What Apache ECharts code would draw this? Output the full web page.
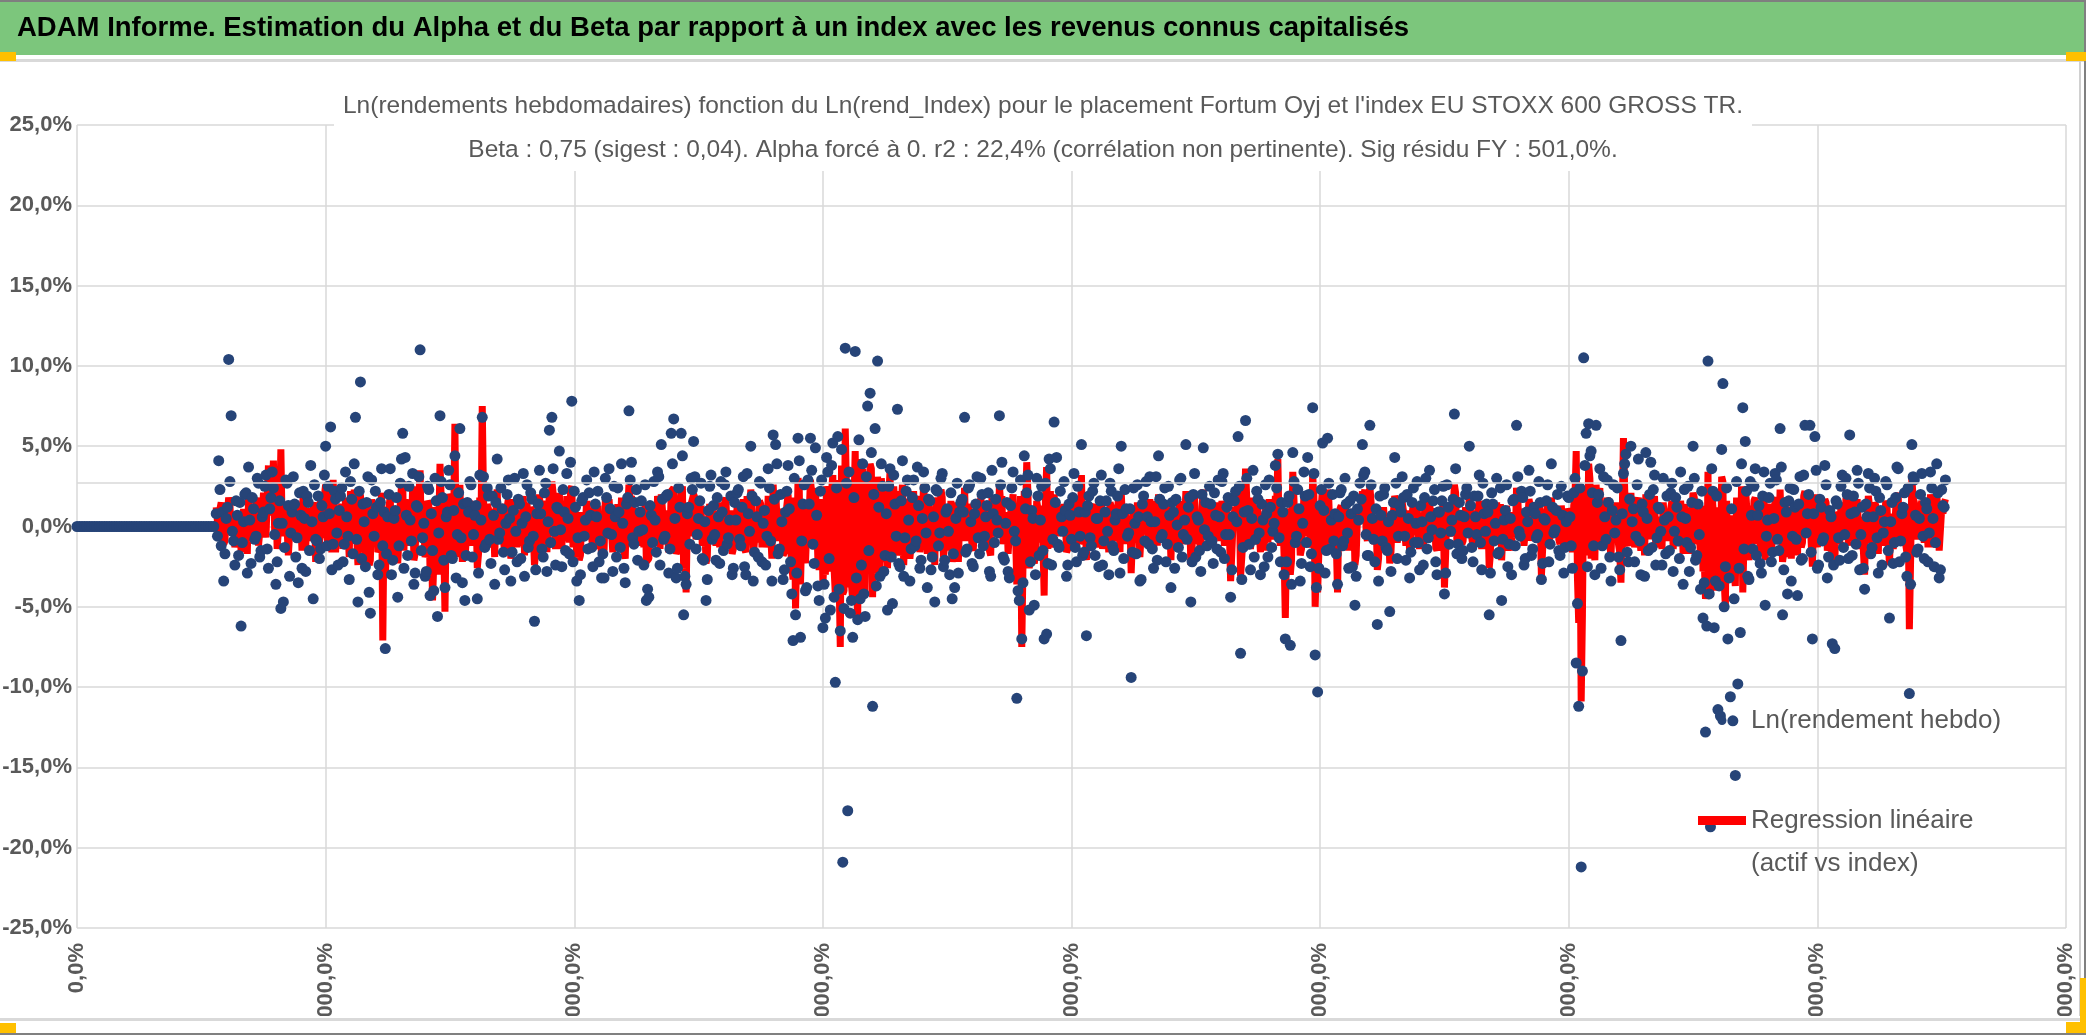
<!DOCTYPE html>
<html lang="fr">
<head>
<meta charset="UTF-8">
<title>ADAM Informe - Fortum Oyj</title>
<script src="https://cdn.jsdelivr.net/npm/echarts@6.0.0/dist/echarts.min.js"></script>
<style>
  html, body { margin: 0; padding: 0; background: #fff; }
  #container { width: 2086px; height: 1035px; }
</style>
</head>
<body>
<div id="container"></div>
<script>
// --- data (percent units) ---
var LEAD_STEP = 2;               // the no-history weeks, one point every 2 weeks
var FIRST_TRADED_WEEK = 112;     // first week with a quotation
var X_MAX = 1600, X_INTERVAL = 200;
var Y_MIN = -25, Y_MAX = 25, Y_INTERVAL = 5;
var GRID_EXTRA_LINE = 2.75;

var ASSET_NAME = 'Ln(rendement hebdo)';
var REG_NAME = 'Regression linéaire (actif vs index)';

// weeks 0..110 : no quotation yet
var assetNoHistory = [
  0, 0, 0, 0, 0, 0, 0, 0, 0, 0, 0, 0, 0, 0, 0, 0, 0, 0, 0, 0,
  0, 0, 0, 0, 0, 0, 0, 0, 0, 0, 0, 0, 0, 0, 0, 0, 0, 0, 0, 0,
  0, 0, 0, 0, 0, 0, 0, 0, 0, 0, 0, 0, 0, 0, 0, 0
];

// Ln(rendement hebdo), even weeks 112, 114 .. 1502
var assetEvenWeeks = [
  0.8, 4.1, -1.2, -3.4, 0.5, 10.4, 6.9, -0.9, 1.6, -1.8,
  -6.2, 0.3, 2.1, 3.7, -2.3, 1.1, -0.6, 2.7, -1.5, 0.9,
  3.2, -2.6, 1.8, 2.4, -3.6, 0.2, -5.1, -4.7, 2.9, 1.3,
  -0.4, 3.1, -1.9, -3.5, 0.7, 2.2, -2.8, 1.5, 3.8, -4.5,
  -0.8, 1.9, -1.4, 0.6, 5.0, 2.5, 6.2, -1.1, 1.7, -2.4,

  1.9, -2.2, 3.4, -0.6, 2.8, -1.7, 6.8, -4.7, 9.0, 1.4,
  -2.5, 3.1, -5.4, 0.8, 2.2, -3.0, 1.5, -1.2, -7.6, 0.6,
  3.6, -2.1, 1.0, -4.4, 2.7, 5.8, 4.3, -1.8, 0.4, 3.3,
  -2.9, 1.2, 11.0, -0.7, -3.1, 2.5, -4.3, -1.5, 3.0, -5.6,
  6.9, 1.8, -3.8, 0.9, 2.6, -2.0, 4.4, -0.5, 6.1, -3.5,

  -4.6, 1.5, 2.8, -1.9, 0.7, -4.5, 3.2, 6.8, -1.3, 2.4,
  -0.8, 1.9, -3.6, 4.2, -0.4, 1.1, -2.7, 2.0, 0.5, -1.6,
  3.0, -2.2, 1.4, 0.2, -3.1, 2.6, -0.9, 1.7, -5.9, 0.8,
  3.5, -1.4, 2.1, -2.8, 6.0, 6.8, -0.3, 1.2, 4.7, -2.5,
  0.9, 3.3, -1.7, 7.8, 2.2, -3.4, -4.6, 1.6, -0.6, 2.9,

  2.1, -1.3, 3.4, 0.6, -2.2, -3.2, -3.2, 1.8, 3.6, -0.5,
  2.5, -1.9, 0.9, 3.9, -2.6, 1.4, 7.2, 4.0, -1.1, 2.3,
  -0.3, 1.6, -2.4, -4.6, -4.4, 0.7, 2.8, -1.6, 3.1, 5.1,
  -0.8, 1.9, -2.9, 5.8, 6.7, -3.2, 2.4, 5.8, -5.5, -3.6,
  1.2, 3.0, 5.3, -1.4, 0.5, 2.7, -2.1, -4.6, 1.0, 3.2,

  1.3, -2.1, 0.6, 2.8, -1.5, 3.4, -0.7, 1.9, -2.6, 0.4,
  2.3, -1.2, 3.1, -3.0, 0.8, 5.0, -3.4, 1.6, -1.9, 2.7,
  0.2, -2.4, 3.6, -0.9, 5.7, 5.1, -1.7, 2.0, -3.3, 0.9,
  3.8, -2.2, -7.1, -5.5, 5.5, -6.9, 1.4, -4.0, 2.9, 5.5,
  -1.1, 4.9, -3.7, 2.2, -6.3, -5.7, 3.4, -5.2, 5.2, -9.7,

  5.6, -6.5, -20.9, 11.1, -17.7, -5.4, -6.9, 10.9, -5.8, -4.5,
  3.9, -5.6, 7.5, 8.3, -11.2, 6.1, 10.3, -3.1, 2.5, -1.8,
  -5.2, 3.6, -4.8, 1.4, 7.3, -2.5, 4.1, -0.7, 2.9, -3.4,
  1.8, -1.2, 3.7, -2.6, 0.5, 2.4, -3.8, 1.6, -1.9, -4.7,
  2.2, -0.4, 3.3, -2.1, 1.1, -3.0, -4.5, -3.8, 2.7, 0.9,

  1.7, 6.8, -1.4, 2.6, -2.3, 0.8, 3.1, -1.7, 2.0, -0.6,
  1.3, -2.8, 3.5, -1.0, 0.4, 6.9, 4.0, -2.1, 1.5, -3.2,
  2.4, -0.3, -10.7, -4.6, -7.0, 4.4, 2.1, -5.2, 1.0, -4.9,
  3.0, -1.8, 2.5, -7.0, -6.7, 4.2, -2.4, 6.5, 4.3, -1.3,
  0.6, 2.8, -3.1, 1.4, -0.8, 3.3, -2.2, 0.9, 5.1, -1.6,

  -6.8, 1.9, -1.2, 2.7, 0.5, -2.5, 3.2, -0.9, 1.6, -3.0,
  2.2, -1.5, 0.8, 3.6, 5.0, -2.0, 1.1, -0.4, -9.4, 2.4,
  -1.7, 0.6, -3.3, 1.9, 2.8, -1.1, 0.3, -2.6, 3.1, 4.4,
  -0.7, 1.4, -2.2, 2.5, -3.8, 0.9, 1.7, -1.3, 3.0, -0.5,
  5.1, 1.2, -4.7, 2.0, -1.9, 0.4, -2.8, 4.9, 1.5, -0.6,

  1.4, -2.3, 0.7, 2.9, -1.6, 3.3, -0.5, 1.8, -4.4, 0.6,
  2.2, 5.6, -7.9, -1.3, 6.6, 1.0, -2.7, 3.5, -0.8, 1.7,
  -3.0, 0.4, 2.6, -1.9, 1.2, -0.3, 3.8, 4.5, -2.2, 0.9,
  -7.0, 1.5, -7.4, 4.6, -1.0, 2.3, -3.4, 0.2, 1.9, 4.3,
  -2.5, 7.4, -8.0, -10.3, 1.3, 5.2, -2.9, 5.5, -1.4, 2.0,

  0.8, -3.6, 2.1, -1.2, 3.0, -0.4, 1.6, -2.5, -4.9, 1.1,
  2.7, 5.1, 3.4, -1.8, 6.3, 0.5, -2.2, -6.1, 1.9, -0.9,
  2.4, -1.5, -5.3, 0.7, 4.3, -2.0, 1.3, 3.1, -0.6, 2.0,
  -3.2, 1.5, -1.0, 2.8, -2.7, 0.3, 1.8, -1.4, 3.5, -0.2,
  2.3, -3.0, 0.9, 1.6, -4.2, 2.6, -1.1, 0.4, 7.0, -1.7,

  1.5, -2.0, 0.6, 2.4, 5.0, -1.3, 1.9, -0.5, 3.2, -2.7,
  0.8, 1.4, -5.5, 2.1, -0.9, 3.0, -1.6, -4.6, 0.4, 2.6,
  -1.1, -3.0, 1.7, 6.3, -0.3, 2.2, -2.4, 0.9, 3.5, -1.8,
  1.2, -0.7, 2.8, -3.3, 0.5, 1.6, -2.2, 3.9, -0.4, 1.0,
  -1.5, 2.5, -2.9, 0.3, 1.8, -1.2, 2.1, -8.5, -11.2, -21.2,

  10.5, 5.8, 6.4, 4.7, -1.2, 6.3, 2.0, -2.6, 3.1, -0.8,
  1.5, -3.4, 2.6, 0.4, -1.9, -7.1, 3.3, 4.5, -2.2, 5.0,
  1.1, -0.6, 4.2, -3.0, 0.9, 4.6, -1.5, 4.0, 2.3, -2.4,
  1.2, -0.3, 3.0, -1.7, 0.6, 2.1, -2.8, 1.8, -0.9, 3.4,
  -3.6, 0.5, 2.5, -1.3, 5.0, -2.1, 1.4, -3.9, -5.7, -12.8,

  10.3, -18.7, 2.2, -3.4, -11.4, -11.8, 8.9, -2.5, -7.0, -10.6,
  -12.1, -15.5, -9.8, -6.6, 7.4, 5.3, -3.1, 2.8, -1.4, 3.6,
  0.7, -2.3, 1.9, -4.9, 0.4, 2.7, -1.6, 3.3, -0.8, 6.1,
  -5.5, 1.5, -4.2, 2.4, -0.6, 1.2, -4.3, 3.1, -2.0, 6.3,
  0.8, 6.3, -7.0, 5.6, -2.6, 1.7, -0.9, 3.8, -3.2, 1.0,

  -7.3, -7.6, 1.4, -2.1, 3.2, -0.5, 2.0, 5.7, -1.8, 0.9,
  3.5, -2.7, 1.2, -3.9, 0.6, 2.4, -1.3, 3.0, -0.7, 1.8,
  -2.4, 0.3, 2.6, -5.7, 1.5, -1.0, 3.7, -2.2, 0.8, 2.1,
  -3.1, -10.4, 5.1, 2.9, -1.6, 0.5, 3.3, -2.0, 1.1, -0.4,
  2.4, -2.5, 3.9, -3.2, 2.3, 1.2
];

// Ln(rendement hebdo), odd weeks 113, 115 .. 1503
var assetOddWeeks = [
  -0.6, 2.3, 0.9, -1.7, 1.2, 2.8, -0.3, -2.4, 0.7, 1.5,
  -1.0, 2.0, -2.9, 0.4, 1.8, -0.8, 3.0, -1.9, 0.6, 2.5,
  -1.4, 1.1, 3.4, -0.5, -2.2, 1.6, 0.2, -1.3, 2.7, -3.1,
  0.9, 1.4, -0.7, 2.1, -2.6, 0.5, 1.9, -1.5, 0.3, 2.6,
  -0.9, -2.0, 1.3, 3.2, -1.2, 0.8, -2.7, 2.2, -0.4, 1.0,

  2.4, -1.1, 0.6, -3.3, 1.7, 3.9, -0.8, 2.2, -2.0, 0.3,
  1.5, -4.1, 2.9, -0.6, 1.2, -2.4, 3.6, 0.9, -1.7, 2.0,
  -3.0, 0.5, 1.8, -1.2, 4.2, -2.6, 0.7, 2.5, -0.9, -3.6,
  1.3, 3.1, -1.5, 0.2, -2.8, 2.3, 0.8, -4.0, 1.6, -0.4,
  2.8, -2.1, 0.6, 3.5, -1.8, 1.0, -3.2, 2.1, -0.7, 1.4,

  -1.8, 0.9, 2.6, -0.5, 1.3, -2.9, 0.4, 3.1, -1.1, 1.9,
  -2.3, 0.7, 1.5, -0.8, 2.4, -1.6, 0.2, 2.9, -3.4, 1.0,
  -0.3, 1.7, -2.0, 3.3, 0.6, -1.3, 2.1, -0.6, -2.7, 1.4,
  0.8, -1.9, 2.7, 0.3, -1.0, 3.6, -2.4, 1.1, -0.2, 2.3,
  -1.5, 0.5, 4.0, -2.2, 1.2, -0.7, -3.0, 1.8, 0.4, -1.4,

  0.7, -2.5, 1.4, 2.2, -0.9, -1.7, 3.0, -0.4, 1.1, -2.8,
  0.6, 2.4, -1.3, 0.2, -3.5, 1.8, 2.9, -0.7, 1.5, -2.1,
  0.9, -0.2, 2.6, -3.9, 1.3, -1.0, 0.4, 3.4, -2.4, 1.7,
  -0.6, 2.0, -1.4, 3.9, 0.5, -2.6, 1.2, 4.4, -3.1, 0.8,
  -1.1, 2.3, 3.1, -0.5, 1.6, -2.0, 0.3, -3.3, 2.5, -0.8,

  -0.5, 1.8, -2.3, 0.9, 2.6, -1.1, 0.4, -3.0, 1.5, 2.1,
  -0.8, 1.2, -2.5, 3.3, -0.3, 1.9, -1.6, 0.6, 2.8, -2.2,
  1.0, -0.6, 2.4, -3.4, 1.7, 3.9, -1.4, 0.3, -2.7, 2.2,
  1.1, -4.2, 3.0, -2.9, 4.1, -0.9, 2.6, -3.8, 1.4, 3.5,
  -2.3, 0.7, -4.6, 2.9, -3.6, 4.3, -2.0, 3.8, -4.4, 2.4,

  -3.9, 4.8, -5.1, 2.7, 3.4, -4.6, 1.8, -3.2, 5.4, -2.4,
  -4.2, 3.1, -1.5, 4.6, 2.0, -3.7, 1.2, 3.9, -2.8, 0.8,
  2.5, -1.9, 3.2, -0.6, -2.3, 1.6, -3.1, 2.2, 0.4, -1.4,
  2.9, -0.9, 1.3, -2.1, 3.4, -0.4, 1.7, -2.7, 0.6, 2.3,
  -1.2, 3.0, -2.5, 0.9, -0.3, 2.1, -1.7, 0.5, -2.9, 1.5,

  0.9, -1.6, 2.4, 0.3, -2.5, 1.4, -0.7, 3.0, -1.2, 0.6,
  2.1, -3.1, 0.8, 1.7, -0.4, 2.6, -1.9, 0.2, -2.8, 1.3,
  3.4, -0.9, -4.0, 2.9, -3.5, 1.1, 3.2, -2.2, 0.5, -3.0,
  1.9, 0.4, -1.5, 2.7, -2.3, 3.6, -0.8, 1.5, -1.1, 2.2,
  -0.3, 1.0, -2.4, 0.7, 1.8, -1.3, 2.5, -0.6, -1.8, 0.9,

  1.3, -0.7, 2.2, -1.8, 0.5, 1.6, -2.4, 0.9, -0.3, 2.7,
  -1.2, 0.4, 1.9, -2.9, 0.8, 2.3, -0.6, 1.1, -1.6, 0.2,
  2.6, -3.4, 1.4, -0.9, 0.6, 3.1, -1.4, 0.3, -2.1, 1.7,
  -0.5, 2.4, -1.1, 0.7, 1.5, -2.6, 0.1, 2.9, -1.9, 0.4,
  -0.8, 1.8, -2.2, 3.3, 0.6, -1.5, 2.0, -0.2, -1.2, 2.5,

  -0.9, 2.1, -1.4, 0.6, 2.8, -2.0, 1.2, -0.5, -2.7, 1.6,
  0.3, 2.5, -3.3, 0.9, 3.0, -1.1, 0.5, -1.9, 2.2, -0.4,
  1.4, -2.5, 0.8, 2.9, -1.3, 0.2, 2.4, -0.7, 1.5, -3.0,
  -2.2, 1.9, -3.6, 2.8, -0.6, 1.1, -2.3, 3.4, -1.0, 2.0,
  -1.7, 3.3, -3.8, -2.6, 2.3, 1.0, -1.5, 2.7, 0.4, -0.9,

  -1.7, 0.6, 2.3, -0.9, 1.4, -2.6, 0.8, 1.9, -3.1, 0.4,
  1.7, 3.2, -0.5, -1.8, 2.6, -0.8, 1.1, -3.4, 0.7, 2.0,
  -1.3, 0.3, -2.8, 1.5, 2.7, -0.6, 0.9, 1.8, -2.1, 0.5,
  -1.6, 2.4, 0.2, -1.0, 1.3, -2.4, 3.0, -0.7, 0.6, 1.6,
  -2.2, 0.9, -0.4, 2.5, -2.9, 1.2, -0.3, 1.7, 3.6, -1.1,

  0.7, -1.5, 2.0, -0.4, 1.3, -2.2, 0.6, 1.9, -1.0, 2.7,
  -0.3, 0.9, -2.9, 1.4, 0.2, -1.7, 2.4, -0.8, 1.0, -2.5,
  0.5, 1.6, -1.2, 3.1, -0.6, 1.8, -2.0, 0.3, 2.2, -1.4,
  0.8, -0.5, 1.5, -2.3, 0.4, 2.6, -1.1, 1.2, -0.2, 2.0,
  -1.8, 0.7, -1.3, 1.9, 0.6, -2.6, 3.0, -4.8, 2.4, -9.0,

  3.8, -2.5, 4.4, 2.1, -3.0, 1.5, 3.6, -1.2, 0.6, 2.9,
  -1.9, 1.0, -0.4, 2.4, -2.7, 0.8, 3.9, -1.6, 1.7, 0.3,
  -2.2, 2.6, -0.9, 1.4, -3.1, 0.5, 2.0, -1.3, 3.2, -0.7,
  1.1, -2.4, 0.4, 1.9, -1.5, 2.7, -0.3, 1.2, -2.0, 0.6,
  2.3, -1.0, -2.8, 1.5, 3.0, -1.8, -0.5, 2.2, -3.5, -6.2,

  -4.2, 3.6, -6.3, 1.9, -3.7, 4.8, -5.0, 2.4, -3.2, 1.1,
  -4.5, 2.8, -2.6, 3.9, -1.4, 2.2, -3.3, 0.7, 2.5, -1.8,
  1.3, -2.9, 3.4, -0.6, 1.8, -2.2, 0.5, 2.9, -1.5, 3.7,
  -2.7, 0.9, 1.6, -3.4, 2.3, -0.8, 1.4, -2.1, 3.2, -0.4,
  2.0, -1.6, 0.8, 3.5, -2.4, 1.2, -0.7, 2.6, -1.9, 0.6,

  -2.4, 1.6, -0.7, 2.5, -1.3, 3.0, -2.0, 0.8, 1.9, -1.1,
  2.7, -0.5, -2.6, 1.4, 3.3, -1.7, 0.6, 2.2, -2.9, 1.0,
  -0.4, 2.8, -1.5, 0.3, -2.3, 1.8, 3.6, -0.9, 1.2, -1.9,
  2.4, -3.6, 3.1, 0.7, -1.4, 2.0, -0.6, 1.5, -2.2, 3.4,
  0.5, -1.0, 2.1, -2.7, 1.3, 2.9
];

// beta x Ln(rend_Index), even weeks 112 .. 1502
var regressionEvenWeeks = [
  1.2, -0.8, 1.5, -1.1, 0.6, 1.8, -0.5, 0.9, -1.4, 0.4,
  -1.6, 1.1, -0.3, 1.9, -0.9, 0.7, 1.4, -1.2, 0.5, 2.1,
  -0.7, 3.8, 1.2, 4.1, 2.3, -1.5, 4.8, -0.6, 1.5, -1.8,
  0.8, -0.4, 1.6, -1.0, 0.3, 2.4, -1.3, 0.9, -0.5, 1.2,
  -2.2, 0.6, 1.8, -0.7, 2.6, -1.1, 0.4, 2.9, -1.6, 0.8,

  0.6, -1.4, 1.8, -0.3, 2.2, -0.9, 1.5, -2.4, 2.0, 0.7,
  -1.8, 1.3, -2.1, 0.4, 1.1, -1.6, 0.8, -7.1, -3.2, 0.5,
  1.9, -1.0, 0.6, -2.3, 1.4, 2.8, 1.7, -1.2, 0.3, 2.5,
  -1.7, 0.9, 3.5, -0.6, -1.9, 1.6, -2.8, -4.6, 1.2, -3.0,
  3.9, 0.8, -5.3, 0.4, 1.8, -1.5, 6.4, -0.8, 2.6, -2.2,

  -2.0, 0.8, 1.6, -1.2, 0.5, -2.6, 1.8, 7.5, -0.9, 1.4,
  -0.5, 1.1, -1.9, 2.3, -0.2, 0.7, -1.5, 1.2, 0.3, -1.0,
  1.7, -1.3, 0.9, 0.1, -1.8, 1.5, -0.6, 1.0, -2.4, 0.5,
  2.0, -0.8, 1.2, -1.6, 2.2, 2.8, -0.2, 0.7, 2.1, -1.4,
  0.6, 1.9, -1.0, 2.5, 1.3, -1.9, -2.1, 0.9, -0.4, 1.6,

  1.0, -0.7, 1.6, 0.3, -1.4, -1.8, -1.5, 0.9, 1.7, -0.3,
  1.2, -1.1, 0.4, 1.8, -1.5, 0.8, 2.6, 1.9, -0.6, 1.1,
  -0.2, 0.9, -1.3, -2.2, -2.0, 0.4, 1.3, -0.9, 1.5, 2.0,
  -0.5, 1.0, -1.6, 2.2, 2.4, -1.7, 1.2, 2.1, -2.6, -4.1,
  0.6, 1.4, 2.0, -0.8, 0.3, 1.3, -1.2, -2.3, 0.5, 1.5,

  0.7, -1.2, 0.3, 1.5, -0.8, 1.8, -0.4, 1.0, -1.4, 0.2,
  1.2, -0.7, 1.7, -1.6, 0.4, 2.3, -1.8, 0.9, -1.0, 1.4,
  0.1, -1.3, 1.9, -0.5, 2.6, 2.2, -0.9, 1.1, -1.8, 0.5,
  2.0, -1.2, -3.3, -5.1, 3.0, -3.6, 0.8, -2.3, 1.6, 2.9,
  -0.6, 2.4, -2.1, 1.2, -3.5, -3.0, 2.0, -2.8, 3.2, -4.2,

  2.9, -7.5, -4.2, 6.1, -3.8, -2.5, -4.6, 4.7, -5.9, -3.4,
  3.6, -4.1, 2.8, 3.9, -4.4, 2.4, 3.1, -2.7, 2.0, -1.4,
  -2.6, 3.4, -1.9, 1.1, 2.2, -1.3, 2.6, -0.5, 1.5, -2.0,
  1.2, -0.8, 1.9, -1.6, 0.4, 1.3, -1.7, 0.9, -1.1, -2.4,
  1.4, -0.3, 1.8, -1.2, 0.6, -1.5, -2.2, -1.4, 1.5, 0.5,

  0.9, 2.4, -0.8, 1.4, -1.3, 0.5, 1.6, -1.0, 1.1, -0.4,
  0.8, -1.5, 1.8, -0.6, 0.3, 2.5, 1.9, -1.2, 0.9, -1.8,
  1.3, -0.2, -3.6, -2.1, -7.5, 2.2, 4.0, -2.6, 0.6, -2.3,
  1.6, -1.0, 1.3, -4.3, 3.7, 1.8, -1.3, 2.0, 1.6, -0.7,
  0.4, 1.4, -1.6, 0.8, -0.5, 1.7, -1.2, 0.5, 3.2, -0.9,

  -2.1, 1.0, -0.7, 1.4, 0.3, -1.3, 1.7, -0.5, 0.9, -1.6,
  1.2, -0.9, 0.5, 1.9, 2.1, -1.1, 0.7, -0.3, -2.9, 1.3,
  -1.0, 0.4, -2.0, 1.1, 1.5, -0.7, 0.2, -1.5, 1.6, 2.0,
  -0.4, 0.8, -1.2, 1.3, -2.1, 0.5, 0.9, -0.8, 1.6, -0.3,
  2.2, 0.7, -2.4, 1.1, -1.1, 0.3, -1.6, 2.3, 0.9, -0.4,

  0.7, -1.3, 0.4, 1.5, -0.9, 1.7, -0.3, 0.9, -3.4, 0.3,
  1.2, 2.4, -3.1, -0.7, 3.6, 0.5, -1.4, 1.8, -0.4, 0.9,
  -1.6, 0.2, 1.4, -1.0, 0.6, -0.2, 1.9, 4.2, -1.2, 0.5,
  -5.7, 0.8, -3.0, 3.4, -0.5, 1.2, -1.8, 0.1, 1.0, 2.1,
  -1.3, 3.2, -5.0, -4.1, 0.7, 2.5, -1.5, 2.3, -0.7, 1.0,

  0.4, -4.1, 1.1, -0.6, 1.5, -0.2, 0.9, -1.3, -2.4, 0.6,
  1.3, 2.2, 2.3, -0.9, 2.5, 0.3, -1.1, -2.7, 1.0, -0.5,
  1.2, -0.8, -2.3, 0.4, 1.9, -1.0, 0.7, 1.5, -0.3, 1.0,
  -1.6, 0.8, -0.5, 1.4, -1.4, 0.2, 0.9, -0.7, 1.7, -0.1,
  1.1, -1.5, 0.5, 0.8, -3.8, 1.3, -0.6, 0.2, 2.6, -0.9,

  0.8, -1.1, 0.3, 1.3, 2.0, -0.7, 1.0, -0.3, 1.6, -1.4,
  0.4, 0.7, -2.6, 1.1, -0.5, 1.5, -0.8, -2.1, 0.2, 1.3,
  -0.6, -1.5, 0.9, 2.4, -0.2, 1.1, -1.2, 0.5, 1.7, -0.9,
  0.6, -0.4, 1.4, -3.1, 0.3, 0.8, -1.1, 1.8, -0.2, 0.5,
  -0.8, 1.3, -1.5, 0.2, 0.9, -0.6, 1.3, 4.7, -6.0, -10.9,

  2.5, 1.8, 3.9, -2.0, -0.7, 2.6, 1.1, -1.4, 1.6, -0.5,
  0.8, -1.8, 1.4, 0.2, -1.1, -3.5, 5.5, 2.3, -1.2, 2.1,
  0.6, -0.3, 1.8, -1.5, 0.5, 2.0, -0.8, 1.7, 1.2, -1.3,
  0.6, -0.2, 1.5, -0.9, 0.3, 1.1, -1.4, 0.9, -0.5, 1.6,
  -1.7, 0.3, 1.2, -0.7, 2.1, -1.1, 0.7, -1.9, -2.8, -4.5,

  3.4, -4.4, 1.2, -1.9, -3.6, -3.0, 2.8, -5.0, -2.4, -3.3,
  -1.8, -3.7, -2.6, -1.5, -4.1, 2.5, -1.4, 1.3, -0.7, 1.8,
  0.4, -1.2, 1.0, -2.1, 0.2, 1.4, -0.8, 1.6, -0.4, 2.3,
  -2.2, 0.8, -1.9, 1.2, -0.3, 0.6, -1.8, 1.5, -1.0, 2.2,
  0.4, 1.9, -2.5, 2.0, -1.3, 0.9, -0.5, 1.7, -1.5, 0.5,

  -2.3, -2.5, 0.7, -1.1, 1.6, -0.3, 1.0, 2.2, -0.9, 0.5,
  1.7, -1.4, 0.6, -3.0, 0.3, 1.2, -0.7, 1.5, -0.4, 0.9,
  -1.2, 0.2, 1.3, -2.4, 0.8, -0.5, 1.8, -1.1, 0.4, 1.0,
  -1.6, -6.4, 3.0, 1.5, -0.8, 0.3, 1.6, -1.0, 0.6, -0.2,
  1.2, -1.3, 1.9, -1.5, 1.1, 1.4
];

// beta x Ln(rend_Index), odd weeks 113 .. 1503
var regressionOddWeeks = [
  0.3, 1.1, -0.4, -0.9, 0.8, 1.4, -0.2, -1.3, 0.5, 0.9,
  -0.6, 1.2, -1.7, 0.2, 1.0, -0.5, 1.8, -1.1, 0.3, 1.5,
  -0.8, 0.7, 2.0, -0.3, -1.4, 0.9, 0.1, -0.7, 1.6, -1.9,
  0.5, 0.8, -0.4, 1.2, -1.5, 0.3, 1.1, -0.9, 0.2, 1.5,
  -0.5, -1.2, 0.8, 1.9, -0.7, 0.5, -1.6, 1.3, -0.2, 0.6,

  1.4, -0.6, 0.3, -1.9, 1.0, 2.3, -0.5, 1.3, -1.2, 0.2,
  0.9, -2.4, 1.7, -0.4, 0.7, -1.4, 2.1, 0.5, -1.0, 1.2,
  -1.8, 0.3, 1.1, -0.7, 2.5, -1.5, 0.4, 1.5, -0.5, -2.1,
  0.8, 1.8, -0.9, 0.1, -1.6, 1.4, 0.5, -2.3, 0.9, -0.2,
  1.7, -1.2, 0.4, 2.0, -1.1, 0.6, -1.9, 1.2, -0.4, 0.8,

  -1.0, 0.5, 1.5, -0.3, 0.8, -1.7, 0.2, 1.8, -0.6, 1.1,
  -1.3, 0.4, 0.9, -0.5, 1.4, -0.9, 0.1, 1.7, -2.0, 0.6,
  -0.2, 1.0, -1.2, 1.9, 0.3, -0.8, 1.2, -0.3, -1.6, 0.8,
  0.5, -1.1, 1.6, 0.2, -0.6, 2.1, -1.4, 0.6, -0.1, 1.3,
  -0.9, 0.3, 2.3, -1.3, 0.7, -0.4, -1.8, 1.0, 0.2, -0.8,

  0.4, -1.4, 0.8, 1.3, -0.5, -1.0, 1.7, -0.2, 0.6, -1.6,
  0.3, 1.4, -0.7, 0.1, -2.0, 1.0, 1.7, -0.4, 0.9, -1.2,
  0.5, -0.1, 1.5, -2.2, 0.7, -0.6, 0.2, 1.9, -1.4, 1.0,
  -0.3, 1.1, -0.8, 2.3, 0.3, -1.5, 0.7, 2.5, -1.8, 0.5,
  -0.6, 1.3, 1.8, -0.3, 0.9, -1.2, 0.2, -1.9, 1.4, -0.5,

  -0.3, 1.0, -1.3, 0.5, 1.5, -0.6, 0.2, -1.7, 0.9, 1.2,
  -0.5, 0.7, -1.4, 1.9, -0.2, 1.1, -0.9, 0.4, 1.6, -1.3,
  0.6, -0.4, 1.4, -2.0, 1.0, 2.3, -0.8, 0.2, -1.6, 1.3,
  0.7, -2.5, 1.8, -1.7, 2.4, -0.5, 1.5, -2.2, 0.8, 2.1,
  -1.4, 0.4, -2.7, 1.7, -2.1, 2.5, -1.2, 2.2, -2.6, 1.4,

  -3.0, 3.8, -4.0, 2.1, 2.7, -3.6, 1.4, -2.5, 4.2, -1.9,
  -3.3, 2.4, -1.2, 3.6, 1.6, -2.9, 0.9, 3.0, -2.2, 0.6,
  1.9, -1.5, 2.5, -0.5, -1.8, 1.2, -2.4, 1.7, 0.3, -1.1,
  2.2, -0.7, 1.0, -1.6, 2.6, -0.3, 1.3, -2.1, 0.5, 1.8,
  -0.9, 2.3, -1.9, 0.7, -0.2, 1.6, -1.3, 0.4, -2.2, 1.2,

  0.5, -0.9, 1.4, 0.2, -1.5, 0.8, -0.4, 1.8, -0.7, 0.3,
  1.2, -1.8, 0.5, 1.0, -0.2, 1.5, -1.1, 0.1, -1.7, 0.8,
  2.0, -0.5, -2.6, 1.9, -2.2, 0.7, 2.0, -1.4, 0.3, -1.8,
  1.1, 0.2, -0.9, 1.6, -1.4, 2.2, -0.5, 0.9, -0.6, 1.3,
  -0.2, 0.6, -1.4, 0.4, 1.1, -0.8, 1.5, -0.4, -1.1, 0.5,

  0.7, -0.4, 1.2, -1.0, 0.3, 0.9, -1.4, 0.5, -0.2, 1.5,
  -0.7, 0.2, 1.1, -1.6, 0.5, 1.3, -0.3, 0.6, -0.9, 0.1,
  1.5, -1.9, 0.8, -0.5, 0.3, 1.7, -0.8, 0.2, -1.2, 1.0,
  -0.3, 1.4, -0.6, 0.4, 0.9, -1.5, 0.1, 1.6, -1.1, 0.2,
  -0.5, 1.0, -1.3, 1.9, 0.3, -0.9, 1.2, -0.1, -0.7, 1.4,

  -0.5, 1.2, -0.8, 0.3, 1.6, -1.2, 0.7, -0.3, -1.6, 0.9,
  0.2, 1.4, -1.9, 0.5, 1.7, -0.6, 0.3, -1.1, 1.3, -0.2,
  0.8, -1.5, 0.5, 1.7, -0.8, 0.1, 1.4, -0.4, 0.9, -1.8,
  -1.3, 1.1, -2.1, 1.6, -0.3, 0.6, -1.4, 2.0, -0.6, 1.2,
  -1.0, 1.9, -2.3, -1.5, 1.3, 0.6, -0.9, 1.6, 0.2, -0.5,

  -1.0, 0.3, 1.3, -0.5, 0.8, -1.5, 0.5, 1.1, -1.8, 0.2,
  1.0, 1.9, -0.3, -1.0, 1.5, -0.5, 0.6, -2.0, 0.4, 1.2,
  -0.8, 0.2, -1.6, 0.9, 1.6, -0.4, 0.5, 1.0, -1.2, 0.3,
  -0.9, 1.4, 0.1, -0.6, 0.8, -1.4, 1.8, -0.4, 0.3, 0.9,
  -1.3, 0.5, -0.2, 1.5, -1.7, 0.7, -0.2, 1.0, 2.1, -0.6,

  0.4, -0.9, 1.2, -0.2, 0.8, -1.3, 0.3, 1.1, -0.6, 1.6,
  -0.2, 0.5, -1.7, 0.8, 0.1, -1.0, 1.4, -0.5, 0.6, -1.5,
  0.3, 0.9, -0.7, 1.8, -0.3, 1.0, -1.2, 0.2, 1.3, -0.8,
  0.5, -0.3, 0.9, -1.4, 0.2, 1.5, -0.6, 0.7, -0.1, 1.2,
  -1.1, 0.4, -0.8, 1.1, 0.3, -1.6, 1.8, -3.2, 2.0, -5.5,

  2.6, -1.8, 3.0, 1.4, -2.1, 1.0, 2.4, -0.8, 0.4, 1.8,
  -1.2, 0.6, -0.3, 1.5, -1.6, 0.5, 2.3, -1.0, 1.0, 0.2,
  -1.3, 1.5, -0.6, 0.8, -1.8, 0.3, 1.2, -0.8, 1.9, -0.4,
  0.7, -1.4, 0.3, 1.1, -0.9, 1.6, -0.2, 0.7, -1.2, 0.4,
  1.4, -0.6, -1.7, 0.9, 1.8, -1.1, -0.3, 1.3, -2.1, -3.8,

  -2.8, 2.4, -4.0, 1.2, -2.5, 3.1, -3.3, 1.6, -2.1, 0.7,
  -2.9, 1.8, -1.7, 2.5, -0.9, 1.4, -2.1, 0.4, 1.6, -1.1,
  0.8, -1.8, 2.1, -0.4, 1.1, -1.4, 0.3, 1.8, -0.9, 2.2,
  -1.6, 0.5, 1.0, -2.0, 1.4, -0.5, 0.9, -1.3, 1.9, -0.2,
  1.2, -1.0, 0.5, 2.0, -1.4, 0.7, -0.4, 1.5, -1.1, 0.4,

  -1.4, 0.9, -0.4, 1.5, -0.8, 1.8, -1.2, 0.5, 1.1, -0.6,
  1.6, -0.3, -1.5, 0.8, 1.9, -1.0, 0.3, 1.3, -1.7, 0.6,
  -0.2, 1.6, -0.9, 0.2, -1.4, 1.1, 2.1, -0.5, 0.7, -1.1,
  1.4, -2.1, 1.8, 0.4, -0.8, 1.2, -0.3, 0.9, -1.3, 2.0,
  0.3, -0.6, 1.2, -1.6, 0.8, 1.7
];

// --- build chart ---
var FONT = "'Liberation Sans', Arial, sans-serif";
var GRAY_TEXT = '#595959';

function weekly(evenVals, oddVals, firstWeek) {
  var out = [];
  for (var i = 0; i < evenVals.length; i++) {
    out.push([firstWeek + 2 * i, evenVals[i]]);
    if (i < oddVals.length) out.push([firstWeek + 2 * i + 1, oddVals[i]]);
  }
  return out;
}

var assetData = assetNoHistory.map(function (v, i) { return [i * LEAD_STEP, v]; })
  .concat(weekly(assetEvenWeeks, assetOddWeeks, FIRST_TRADED_WEEK));
var regData = weekly(regressionEvenWeeks, regressionOddWeeks, FIRST_TRADED_WEEK);

function pctLabel(v) {
  return v.toFixed(1).replace('.', ',') + '%';
}

var dom = document.getElementById('container');
var myChart = echarts.init(dom);

var option = {
  animation: false,
  backgroundColor: '#fff',
  title: [{
    text: "Ln(rendements hebdomadaires) fonction du Ln(rend_Index) pour le placement Fortum Oyj et l'index EU STOXX 600 GROSS TR.",
    subtext: 'Beta : 0,75 (sigest : 0,04). Alpha forcé à 0. r2 : 22,4% (corrélation non pertinente). Sig résidu FY : 501,0%.',
    left: 'center',
    top: 85,
    padding: [6, 9, 6, 9],
    itemGap: 14,
    backgroundColor: '#fff',
    textStyle: { fontFamily: FONT, fontSize: 24.5, fontWeight: 'normal', color: GRAY_TEXT, lineHeight: 30 },
    subtextStyle: { fontFamily: FONT, fontSize: 24.5, color: GRAY_TEXT, lineHeight: 30 }
  }, {
    text: 'ADAM Informe. Estimation du Alpha et du Beta par rapport à un index avec les revenus connus capitalisés',
    left: 17,
    top: 10,
    padding: 0,
    textStyle: { fontFamily: FONT, fontSize: 27.5, fontWeight: 'bold', color: '#000', lineHeight: 36 }
  }],
  legend: {
    orient: 'vertical',
    left: 1693,
    top: 694,
    itemWidth: 48,
    itemHeight: 9,
    itemGap: 14,
    textStyle: { fontFamily: FONT, fontSize: 26, color: GRAY_TEXT, lineHeight: 43 },
    data: [
      { name: ASSET_NAME, icon: 'circle' },
      { name: REG_NAME, icon: 'rect' }
    ],
    formatter: function (name) {
      return name === REG_NAME ? ' \nRegression linéaire\n(actif vs index)' : name;
    }
  },
  grid: { left: 77, right: 20, top: 125, bottom: 107, containLabel: false, outerBoundsMode: 'none' },
  xAxis: {
    type: 'value',
    min: 0,
    max: X_MAX,
    interval: X_INTERVAL,
    axisLine: { show: false },
    axisTick: { show: false },
    splitLine: { show: true, lineStyle: { color: '#d9d9d9', width: 1.5 } },
    axisLabel: {
      rotate: 90,
      margin: 15,
      fontFamily: FONT,
      fontSize: 22,
      fontWeight: 'bold',
      color: GRAY_TEXT,
      formatter: function (v) { return pctLabel(v * 100); }
    }
  },
  yAxis: {
    type: 'value',
    min: Y_MIN,
    max: Y_MAX,
    interval: Y_INTERVAL,
    axisLine: { show: false },
    axisTick: { show: false },
    splitLine: { show: true, lineStyle: { color: '#d9d9d9', width: 1.5 } },
    axisLabel: {
      margin: 5,
      fontFamily: FONT,
      fontSize: 22,
      fontWeight: 'bold',
      color: GRAY_TEXT,
      formatter: pctLabel
    }
  },
  series: [{
    type: 'line',
    data: [],
    silent: true,
    z: 1,
    markLine: {
      silent: true,
      symbol: 'none',
      label: { show: false },
      lineStyle: { color: '#d9d9d9', width: 1.5, type: 'solid' },
      data: [{ yAxis: GRID_EXTRA_LINE }]
    }
  }, {
    name: REG_NAME,
    type: 'line',
    data: regData,
    showSymbol: false,
    symbol: 'none',
    lineStyle: { color: '#ff0000', width: 7 },
    itemStyle: { color: '#ff0000' },
    z: 2
  }, {
    name: ASSET_NAME,
    type: 'scatter',
    data: assetData,
    symbolSize: 11,
    itemStyle: { color: '#264478', opacity: 1 },
    z: 3
  }],
  graphic: [
    // green banner
    { type: 'rect', shape: { x: 0, y: 0, width: 2086, height: 55 }, style: { fill: '#7cc67c' }, z: 1 },
    { type: 'rect', shape: { x: 0, y: 0, width: 2086, height: 2 }, style: { fill: '#7f7f7f' }, z: 1 },
    { type: 'rect', shape: { x: 0, y: 59, width: 2086, height: 3 }, style: { fill: '#d9d9d9' }, z: 1 },
    // right frame
    { type: 'rect', shape: { x: 2079, y: 59, width: 2, height: 962 }, style: { fill: '#d0d0d0' }, z: 1 },
    { type: 'rect', shape: { x: 2084, y: 0, width: 2, height: 1035 }, style: { fill: '#808080' }, z: 1 },
    // bottom edge cuts the axis labels
    { type: 'rect', shape: { x: 0, y: 1016, width: 2086, height: 19 }, style: { fill: '#fff' }, z: 100 },
    { type: 'rect', shape: { x: 0, y: 1018, width: 2086, height: 3 }, style: { fill: '#d9d9d9' }, z: 101 },
    { type: 'rect', shape: { x: 0, y: 1033, width: 2086, height: 2 }, style: { fill: '#808080' }, z: 101 },
    // selection handles
    { type: 'rect', shape: { x: 0, y: 52, width: 16, height: 9 }, style: { fill: '#ffc000' }, z: 102 },
    { type: 'rect', shape: { x: 2066, y: 52, width: 20, height: 9 }, style: { fill: '#ffc000' }, z: 102 },
    { type: 'rect', shape: { x: 0, y: 1023, width: 16, height: 10 }, style: { fill: '#ffc000' }, z: 102 },
    { type: 'rect', shape: { x: 2066, y: 1022, width: 20, height: 11 }, style: { fill: '#ffc000' }, z: 102 },
    { type: 'rect', shape: { x: 2080, y: 978, width: 6, height: 45 }, style: { fill: '#ffc000' }, z: 102 }
  ]
};

if (option && typeof option === 'object') {
  myChart.setOption(option, true);
}
</script>
</body>
</html>
